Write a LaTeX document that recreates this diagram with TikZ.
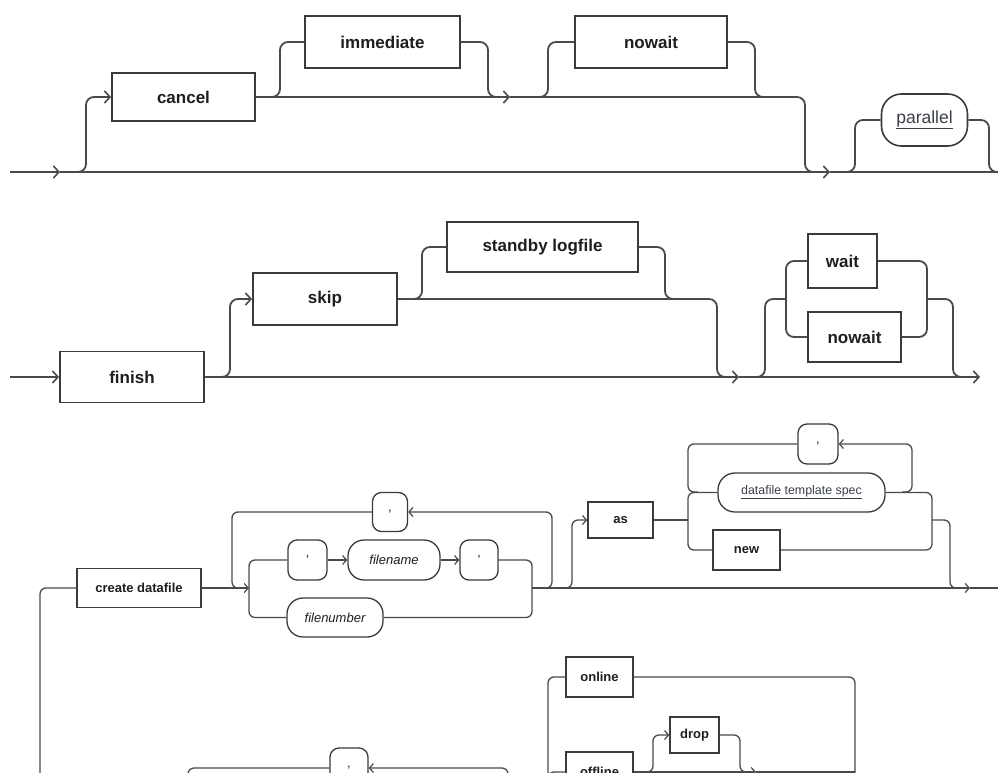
\documentclass[tikz,border=0pt]{standalone}
\usepackage{fontspec}
\setmainfont{Liberation Sans}
\usetikzlibrary{arrows.meta}
\definecolor{linec}{HTML}{4A4A4A}
\definecolor{boxc}{HTML}{3A3A3A}
\definecolor{txtc}{HTML}{1E1E1E}
\definecolor{refc}{HTML}{3A3F4A}
\begin{document}
\begin{tikzpicture}[x=1pt,y=-1pt,
  rail/.style={draw=linec,line width=1.8pt,rounded corners=8pt},
  railsm/.style={draw=linec,line width=1.3pt,rounded corners=6pt},
  railarrow/.style={-{Straight Barb[length=5.5pt,width=12pt,line width=1.6pt]}},
  railarrowsm/.style={-{Straight Barb[length=4pt,width=9pt,line width=1.2pt]}},
  kw/.style={draw=boxc,line width=1.9pt,fill=white,inner sep=0pt,text=txtc,
    font=\fontsize{17}{20}\selectfont\bfseries},
  refbig/.style={draw=boxc,line width=1.6pt,fill=white,inner sep=0pt,text=refc,
    rounded corners=20pt,font=\fontsize{17.5}{20}\selectfont},
  kwsm/.style={draw=boxc,line width=1.4pt,fill=white,inner sep=0pt,text=txtc,
    font=\fontsize{13}{15}\selectfont\bfseries},
  symsm/.style={draw=boxc,line width=1.3pt,fill=white,inner sep=0pt,text=txtc,
    rounded corners=9pt,font=\fontsize{13}{15}\selectfont},
  refsm/.style={draw=boxc,line width=1.3pt,fill=white,inner sep=0pt,text=txtc,
    rounded corners=16pt,font=\fontsize{13}{15}\selectfont\itshape},
  linksm/.style={draw=boxc,line width=1.3pt,fill=white,inner sep=0pt,text=refc,
    rounded corners=17pt,font=\fontsize{12.4}{15}\selectfont},
]
\useasboundingbox (0,0) rectangle (998,773);
\clip (0,0) rectangle (998,773);

% ---------------- cancel [immediate] [nowait] [parallel]
\node[kw,minimum width=143pt,minimum height=48pt] (cancel) at (183.5,97) {cancel};
\node[kw,minimum width=155pt,minimum height=52pt] (immediate) at (382.5,42) {immediate};
\node[kw,minimum width=152pt,minimum height=52pt] (nowaitA) at (651,42) {nowait};
\node[refbig,minimum width=86pt,minimum height=52pt] (parallel) at (924.5,120) {\underline{parallel}};

\coordinate (s1) at (10,172);
\coordinate (a1) at (60,172);
\coordinate (b1) at (76,172);
\coordinate (v1) at (86,97);
\coordinate (a1b) at (830,172);
\coordinate (e1) at (998,172);
\coordinate (ar2) at (510,97);
\coordinate (d1) at (805,172);
\coordinate (m1) at (815,172);
\coordinate (im1) at (270,97);
\coordinate (im2) at (280,42);
\coordinate (im3) at (488,97);
\coordinate (im4) at (498,97);
\coordinate (nw1) at (538,97);
\coordinate (nw2) at (548,42);
\coordinate (nw3) at (755,97);
\coordinate (nw4) at (765,97);
\coordinate (pa1) at (845,172);
\coordinate (pa2) at (855,120);
\coordinate (pa3) at (989,172);

\draw[rail,railarrow] (s1) -- (a1);
\draw[rail,railarrow] (a1) -- (a1b);
\draw[rail] (a1b) -- (e1);
\draw[rail,railarrow] (b1) -| (v1) -- (cancel.west);
\draw[rail,railarrow] (cancel.east) -- (ar2);
\draw[rail] (ar2) -| (d1) -- (m1);
\draw[rail] (im1) -| (im2) -- (immediate.west);
\draw[rail] (immediate.east) -| (im3) -- (im4);
\draw[rail] (nw1) -| (nw2) -- (nowaitA.west);
\draw[rail] (nowaitA.east) -| (nw3) -- (nw4);
\draw[rail] (pa1) -| (pa2) -- (parallel.west);
\draw[rail] (parallel.east) -| (pa3) -- (e1);

% ---------------- finish [skip [standby logfile]] [wait | nowait]
\node[kw,minimum width=144pt,minimum height=51pt] (finish) at (132,377) {finish};
\node[kw,minimum width=144pt,minimum height=52pt] (skip) at (325,299) {skip};
\node[kw,minimum width=191pt,minimum height=50pt] (standby) at (542.5,247) {standby logfile};
\node[kw,minimum width=69pt,minimum height=54pt] (wait) at (842.5,261) {wait};
\node[kw,minimum width=93pt,minimum height=50pt] (nowaitB) at (854.5,337) {nowait};

\coordinate (s2) at (10,377);
\coordinate (a3) at (739,377);
\coordinate (e2) at (980,377);
\coordinate (sk1) at (219,377);
\coordinate (sk2) at (230,299);
\coordinate (sk3) at (717,377);
\coordinate (sk4) at (727,377);
\coordinate (sb1) at (412,299);
\coordinate (sb2) at (422,247);
\coordinate (sb3) at (665,299);
\coordinate (sb4) at (675,299);
\coordinate (w1) at (755,377);
\coordinate (w2) at (765,299);
\coordinate (w3) at (786,299);
\coordinate (w4) at (927,299);
\coordinate (w5) at (953,377);
\coordinate (w6) at (963,377);

\draw[rail,railarrow] (s2) -- (finish.west);
\draw[rail,railarrow] (finish.east) -- (a3);
\draw[rail,railarrow] (a3) -- (e2);
\draw[rail,railarrow] (sk1) -| (sk2) -- (skip.west);
\draw[rail] (skip.east) -| (sk3) -- (sk4);
\draw[rail] (sb1) -| (sb2) -- (standby.west);
\draw[rail] (standby.east) -| (sb3) -- (sb4);
\draw[rail] (w1) -| (w2) -- (w3);
\draw[rail] (w3) |- (wait.west);
\draw[rail] (w3) |- (nowaitB.west);
\draw[rail] (wait.east) -| (w4);
\draw[rail] (nowaitB.east) -| (w4);
\draw[rail] (w4) -| (w5) -- (w6);

% ---------------- create datafile ...
\node[kwsm,minimum width=124pt,minimum height=39pt] (create) at (139,588) {create datafile};
\node[symsm,minimum width=35pt,minimum height=39pt] (comma1) at (390,512) {,};
\node[symsm,minimum width=39pt,minimum height=40pt] (q1) at (307.5,560) {\char"0027};
\node[refsm,minimum width=92pt,minimum height=40pt] (fname) at (394,560) {filename};
\node[symsm,minimum width=38pt,minimum height=40pt] (q2) at (479,560) {\char"0027};
\node[refsm,minimum width=96pt,minimum height=39pt] (fnum) at (335,617.5) {filenumber};
\node[kwsm,minimum width=65pt,minimum height=36pt] (as) at (620.5,520) {as};
\node[symsm,minimum width=40pt,minimum height=40pt] (comma2) at (818,444) {,};
\node[linksm,minimum width=167pt,minimum height=39pt] (dts) at (801.5,492.5) {\underline{datafile template spec}};
\node[kwsm,minimum width=67pt,minimum height=40pt] (new) at (746.5,550) {new};
\node[kwsm,minimum width=67pt,minimum height=40pt] (online) at (599.5,677) {online};
\node[kwsm,minimum width=67pt,minimum height=40pt] (offline) at (599.5,772) {offline};
\node[kwsm,minimum width=49pt,minimum height=36pt] (drop) at (694.5,735) {drop};
\node[symsm,minimum width=38pt,minimum height=40pt] (comma3) at (349,768) {,};

\coordinate (b3) at (40,800);
\coordinate (f3) at (249,588);
\coordinate (lp1) at (232,588);
\coordinate (lp2) at (242,588);
\coordinate (lp3) at (542,588);
\coordinate (lp4) at (552,512);
\coordinate (j3) at (532,588);
\coordinate (a5) at (970,588);
\coordinate (e3) at (998,588);
\coordinate (as1) at (562,588);
\coordinate (as2) at (572,520);
\coordinate (f4) at (688,520);
\coordinate (lq1) at (688,492);
\coordinate (lq2) at (698,492);
\coordinate (lq3) at (902,492);
\coordinate (lq4) at (912,444);
\coordinate (g4) at (932,520);
\coordinate (g5) at (950,588);
\coordinate (g6) at (960,588);
\coordinate (f5) at (548,800);
\coordinate (g7) at (855,800);
\coordinate (dr1) at (643,772);
\coordinate (dr2) at (653,735);
\coordinate (dr3) at (740,772);
\coordinate (dr4) at (748,772);
\coordinate (a6) at (756,772);
\coordinate (c3r) at (508,800);
\coordinate (c3l) at (188,800);

\draw[railsm] (b3) |- (create.west);
\draw[railsm,railarrowsm] (create.east) -- (f3);
\draw[railsm] (f3) |- (q1.west);
\draw[railsm] (f3) |- (fnum.west);
\draw[railsm] (comma1.west) -| (lp1) -- (lp2);
\draw[railsm,railarrowsm] (lp3) -| (lp4) -- (comma1.east);
\draw[railsm,railarrowsm] (q1.east) -- (fname.west);
\draw[railsm,railarrowsm] (fname.east) -- (q2.west);
\draw[railsm] (q2.east) -| (j3);
\draw[railsm] (fnum.east) -| (j3);
\draw[railsm,railarrowsm] (j3) -- (a5);
\draw[railsm] (a5) -- (e3);
\draw[railsm,railarrowsm] (as1) -| (as2) -- (as.west);
\draw[railsm] (as.east) -- (f4);
\draw[railsm] (f4) |- (dts.west);
\draw[railsm] (f4) |- (new.west);
\draw[railsm] (comma2.west) -| (lq1) -- (lq2);
\draw[railsm,railarrowsm] (lq3) -| (lq4) -- (comma2.east);
\draw[railsm] (dts.east) -| (g4);
\draw[railsm] (new.east) -| (g4);
\draw[railsm] (g4) -| (g5) -- (g6);
\draw[railsm] (f5) |- (online.west);
\draw[railsm] (f5) |- (offline.west);
\draw[railsm] (online.east) -| (g7);
\draw[railsm,railarrowsm] (offline.east) -- (a6);
\draw[railsm] (a6) -- (g7 |- a6);
\draw[railsm,railarrowsm] (dr1) -| (dr2) -- (drop.west);
\draw[railsm] (drop.east) -| (dr3) -- (dr4);
\draw[railsm,railarrowsm] (c3r) |- (comma3.east);
\draw[railsm] (comma3.west) -| (c3l);
\end{tikzpicture}
\end{document}
